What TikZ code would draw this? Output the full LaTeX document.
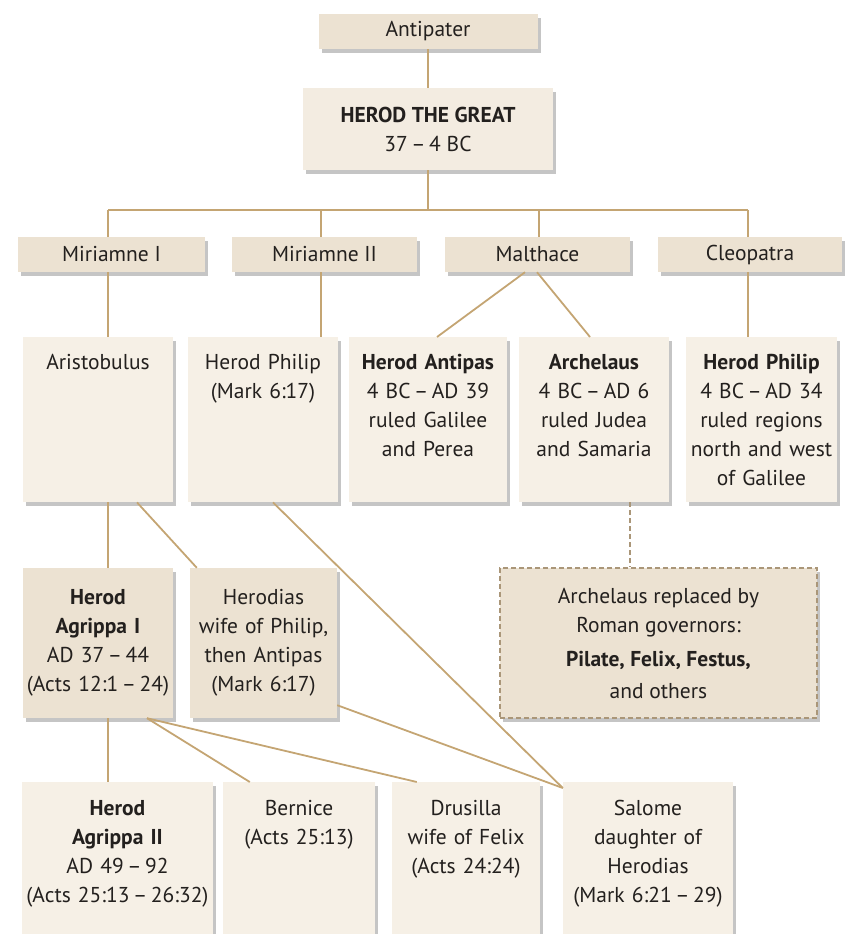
\documentclass[tikz,border=0pt]{standalone}
\usepackage{fontspec}
\setmainfont{PT Sans}
\usetikzlibrary{shadows}
\usetikzlibrary{positioning}
\usetikzlibrary{calc}

\definecolor{boxdark}{RGB}{236,226,210}
\definecolor{boxmid}{RGB}{243,236,225}
\definecolor{boxlight}{RGB}{246,240,230}
\definecolor{linktan}{RGB}{196,165,115}
\definecolor{dashtan}{RGB}{170,150,120}
\definecolor{textgray}{RGB}{35,32,30}

\begin{document}
\begin{tikzpicture}[x=1pt,y=-1pt,
  font=\fontsize{21.5}{29}\selectfont, text=textgray,
  famshadow/.style={drop shadow={shadow xshift=3pt,shadow yshift=-4pt,opacity=0.32,fill=black!70}},
  spousebox/.style={famshadow,fill=boxdark,minimum width=#1,minimum height=35pt,inner sep=0pt},
  sonbox/.style={famshadow,fill=boxlight,anchor=north,inner sep=4pt,text width=#1,align=center,text height=28pt,text depth=129pt},
  gen3box/.style={famshadow,fill=boxdark,inner sep=2pt,text width=#1,align=center,minimum height=150pt},
  grandbox/.style={famshadow,fill=boxlight,anchor=north,inner sep=4pt,text width=#1,align=center,text height=29pt,text depth=115pt},
  link/.style={draw=linktan,line width=1.8pt},
  dashlink/.style={draw=dashtan,line width=1.5pt,dash pattern=on 5pt off 3pt}
]
\useasboundingbox (0,0) rectangle (847,934);

% top of the tree
\node[spousebox=219pt] (antipater) at (428,31.5) {Antipater};
\node[famshadow,fill=boxmid,minimum width=250pt,minimum height=82pt,align=center] (great) at (428,129)
  {\textbf{HEROD THE GREAT}\\37\,–\,4 BC};

% wives
\node[spousebox=187pt] (mirI) at (111.5,254.5) {Miriamne I};
\node[spousebox=185pt] (mirII) at (324.5,254.5) {Miriamne II};
\node[spousebox=185pt] (malthace) at (537.5,254.5) {Malthace};
\node[spousebox=184pt] (cleopatra) at (750,254.5) {Cleopatra};

% sons
\node[sonbox=142pt] (aristo) at (98,337) {Aristobulus};
\node[sonbox=142pt] (philipA) at (263,337) {Herod Philip\\(Mark 6:17)};
\node[sonbox=150pt] (antipas) at (428,337) {\textbf{Herod Antipas}\\4 BC\,–\,AD 39\\ruled Galilee\\and Perea};
\node[sonbox=142pt] (archelaus) at (594,337) {\textbf{Archelaus}\\4 BC\,–\,AD 6\\ruled Judea\\and Samaria};
\node[sonbox=143pt] (philipB) at (761.5,337) {\textbf{Herod Philip}\\4 BC\,–\,AD 34\\ruled regions\\north and west\\of Galilee};

% third generation
\node[gen3box=146pt] (agrippaI) at (98,643) {\textbf{Herod}\\\textbf{Agrippa I}\\AD 37\,–\,44\\\mbox{(Acts 12:1\,–\,24)}};
\node[gen3box=143pt] (herodias) at (263.5,643) {Herodias\\wife of Philip,\\then Antipas\\(Mark 6:17)};
\node[famshadow,fill=boxdark,dashlink,minimum width=317pt,minimum height=150pt,align=center] (governors) at (658.5,643)
  {Archelaus replaced by\\Roman governors:\\[5pt]\textbf{Pilate, Felix, Festus,}\\[3pt]and others};

% fourth generation
\node[grandbox=183pt] (agrippaII) at (117.5,782) {\textbf{Herod}\\\textbf{Agrippa II}\\AD 49\,–\,92\\\mbox{(Acts 25:13\,–\,26:32)}};
\node[grandbox=144pt] (bernice) at (299,782) {Bernice\\(Acts 25:13)};
\node[grandbox=140pt] (drusilla) at (466,782) {Drusilla\\wife of Felix\\(Acts 24:24)};
\node[grandbox=162pt] (salome) at (648,782) {Salome\\daughter of\\Herodias\\\mbox{(Mark 6:21\,–\,29)}};

% bus below Herod the Great
\coordinate (busL) at (108,210);
\coordinate (busML) at (321,210);
\coordinate (busC) at (428,210);
\coordinate (busMR) at (539,210);
\coordinate (busR) at (748,210);

\draw[link] (antipater) -- (great);
\draw[link] (great) -- (busC);
\draw[link] (busL) -- (busR);
\draw[link] (busL) -- (busL |- mirI.north);
\draw[link] (busML) -- (busML |- mirII.north);
\draw[link] (busMR) -- (busMR |- malthace.north);
\draw[link] (busR) -- (busR |- cleopatra.north);

% wives to sons
\draw[link] (mirI.south -| busL) -- (aristo.north -| busL);
\draw[link] (mirII.south -| busML) -- (philipA.north -| busML);
\draw[link] ([xshift=-12.5pt]malthace.south) -- ([xshift=9pt]antipas.north);
\draw[link] ([xshift=-0.5pt]malthace.south) -- ([xshift=-4pt]archelaus.north);
\draw[link] (cleopatra.south -| busR) -- (philipB.north -| busR);

% sons to third generation
\draw[link] (aristo.south -| busL) -- (agrippaI.north -| busL);
\draw[link] ([xshift=39pt]aristo.south) -- ([xshift=7pt]herodias.north west);
\draw[link] ([xshift=10pt]philipA.south) -- ([yshift=-6pt]salome.north west);
\draw[dashlink] ([xshift=36pt]archelaus.south) -- ([xshift=-28.5pt]governors.north);

% third to fourth generation
\draw[link] (agrippaI.south -| busL) -- (agrippaII.north -| busL);
\draw[link] ([xshift=49pt]agrippaI.south) -- ([xshift=27pt]bernice.north west);
\draw[link] ([xshift=49pt]agrippaI.south) -- ([xshift=25pt]drusilla.north west);
\draw[link] ([yshift=13pt]herodias.south east) -- ([yshift=-6pt]salome.north west);

\end{tikzpicture}
\end{document}
